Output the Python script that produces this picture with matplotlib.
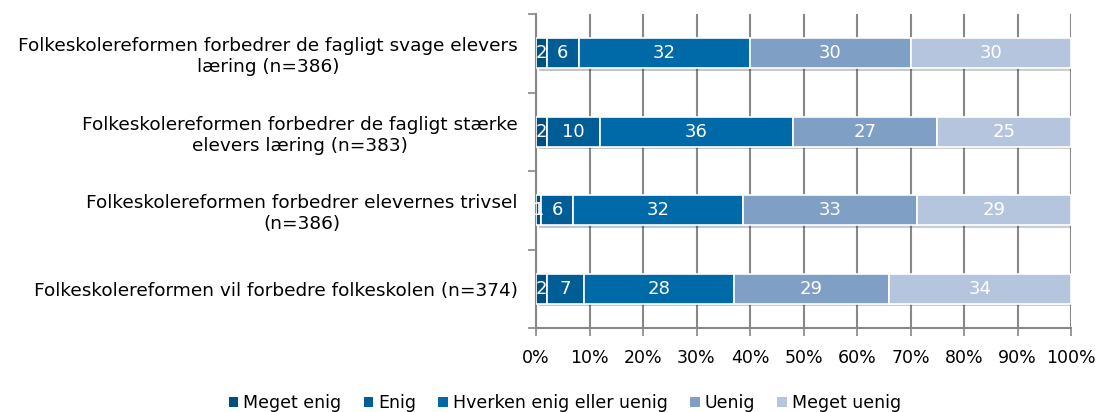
import numpy as np
import matplotlib.pyplot as plt
import matplotlib.patheffects as pe
from matplotlib.patches import Patch

categories = [
    'Folkeskolereformen forbedrer de fagligt svage elevers\nlæring (n=386)',
    'Folkeskolereformen forbedrer de fagligt stærke\nelevers læring (n=383)',
    'Folkeskolereformen forbedrer elevernes trivsel\n(n=386)',
    'Folkeskolereformen vil forbedre folkeskolen (n=374)',
]
series = ['Meget enig', 'Enig', 'Hverken enig eller uenig', 'Uenig', 'Meget uenig']
meget_enig = [2, 2, 1, 2]
enig = [6, 10, 6, 7]
hverken = [32, 36, 32, 28]
uenig = [30, 27, 33, 29]
meget_uenig = [30, 25, 29, 34]
colors = ['#00507f', '#005d96', '#006aa8', '#809fc5', '#b4c5dd']

values = np.array([meget_enig, enig, hverken, uenig, meget_uenig], dtype=float)
shares = values / values.sum(axis=0)  # 100% stacked

plt.rcParams['font.family'] = 'DejaVu Sans'
fig = plt.figure(figsize=(11.01, 4.12), dpi=100)
ax = fig.add_axes([536 / 1101, 1 - 328 / 412, 535 / 1101, 314 / 412])

y = np.arange(len(categories))
left = np.zeros(len(categories))
shadow = [pe.SimplePatchShadow(offset=(2, -2), alpha=0.25), pe.Normal()]
for i, name in enumerate(series):
    bars = ax.barh(y, shares[i], left=left, height=0.38, color=colors[i],
                   edgecolor='white', linewidth=1.2, zorder=3)
    for b in bars:
        b.set_path_effects(shadow)
    for j in range(len(categories)):
        ax.text(left[j] + shares[i][j] / 2, y[j], f'{values[i][j]:.0f}',
                ha='center', va='center', color='white', fontsize=13, zorder=4)
    left += shares[i]

ax.set_xlim(0, 1)
ax.set_ylim(len(categories) - 0.5, -0.5)
ax.set_xticks(np.linspace(0, 1, 11))
ax.set_xticklabels([f'{int(v)}%' for v in np.linspace(0, 100, 11)], fontsize=12.5)
ax.set_yticks(y)
ax.set_yticklabels(categories, fontsize=13.3, multialignment='center')
ax.set_yticks(np.arange(len(categories) + 1) - 0.5, minor=True)
ax.tick_params(axis='y', which='major', length=0, pad=13)
ax.tick_params(axis='y', which='minor', length=6, color='#888888', width=1.2)
ax.tick_params(axis='x', length=6, color='#888888', width=1.2, pad=9)
ax.grid(axis='x', color='#888888', linewidth=1.5, zorder=0)
for s in ['top', 'right']:
    ax.spines[s].set_visible(False)
for s in ['left', 'bottom']:
    ax.spines[s].set_color('#888888')
    ax.spines[s].set_linewidth(1.5)

handles = [Patch(facecolor=c, edgecolor='none') for c in colors]
fig.legend(handles, series, loc='center', bbox_to_anchor=(565 / 1101, 1 - 403 / 412),
           ncol=5, frameon=False, fontsize=12.5, handlelength=0.55, handleheight=0.55,
           handletextpad=0.3, columnspacing=1.27)

fig.savefig('out.png', dpi=100)
